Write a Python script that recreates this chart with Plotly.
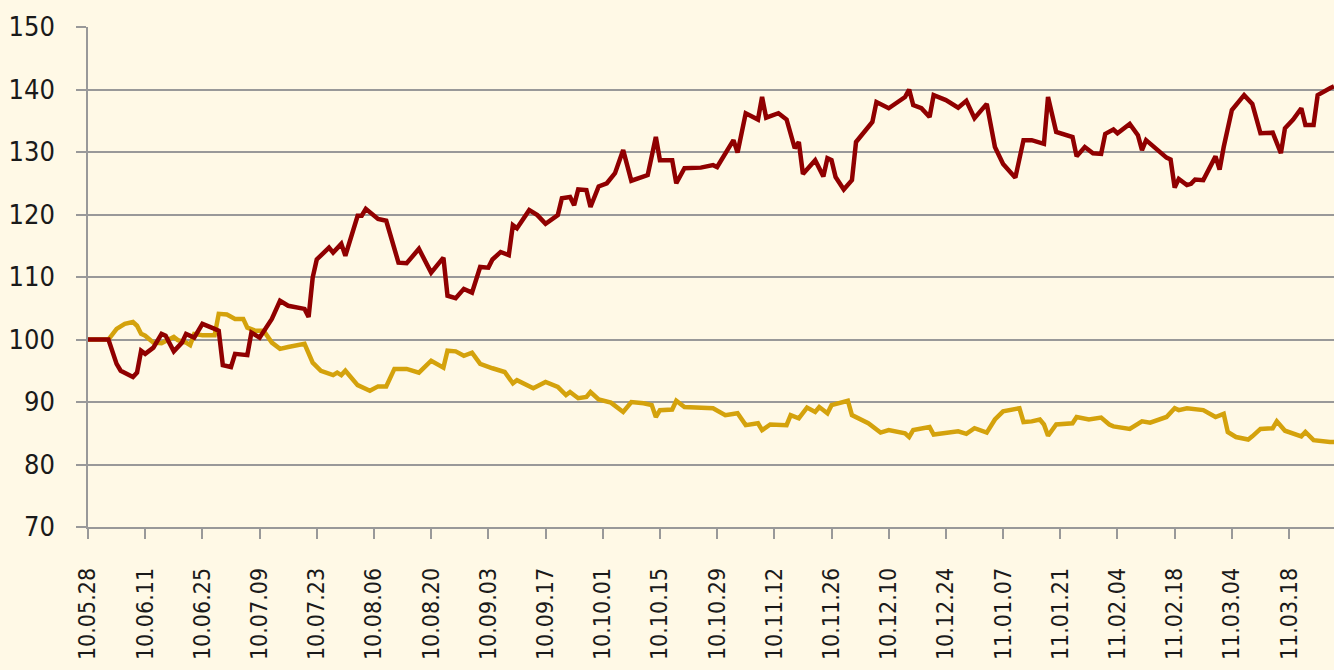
import plotly.graph_objects as go

# red series (index, 2010-05-28 = 100)
red_dates = [
    "2010-05-28", "2010-06-02", "2010-06-04", "2010-06-05", "2010-06-08", "2010-06-09", "2010-06-10",
    "2010-06-11", "2010-06-13", "2010-06-15", "2010-06-16", "2010-06-18", "2010-06-20", "2010-06-21",
    "2010-06-23", "2010-06-25", "2010-06-28", "2010-06-29", "2010-06-30", "2010-07-02", "2010-07-03",
    "2010-07-06", "2010-07-07", "2010-07-08", "2010-07-09", "2010-07-12", "2010-07-14", "2010-07-16",
    "2010-07-20", "2010-07-21", "2010-07-22", "2010-07-23", "2010-07-26", "2010-07-27", "2010-07-29",
    "2010-07-30", "2010-08-02", "2010-08-03", "2010-08-04", "2010-08-07", "2010-08-09", "2010-08-12",
    "2010-08-14", "2010-08-17", "2010-08-20", "2010-08-23", "2010-08-24", "2010-08-26", "2010-08-28",
    "2010-08-30", "2010-09-01", "2010-09-03", "2010-09-04", "2010-09-06", "2010-09-08", "2010-09-09",
    "2010-09-10", "2010-09-13", "2010-09-15", "2010-09-17", "2010-09-20", "2010-09-21", "2010-09-23",
    "2010-09-24", "2010-09-25", "2010-09-27", "2010-09-28", "2010-09-30", "2010-10-02", "2010-10-04",
    "2010-10-06", "2010-10-08", "2010-10-12", "2010-10-14", "2010-10-15", "2010-10-18", "2010-10-19",
    "2010-10-21", "2010-10-25", "2010-10-28", "2010-10-29", "2010-11-02", "2010-11-03", "2010-11-05",
    "2010-11-08", "2010-11-09", "2010-11-10", "2010-11-13", "2010-11-15", "2010-11-17", "2010-11-18",
    "2010-11-19", "2010-11-22", "2010-11-24", "2010-11-25", "2010-11-26", "2010-11-27", "2010-11-29",
    "2010-12-01", "2010-12-02", "2010-12-04", "2010-12-06", "2010-12-07", "2010-12-10", "2010-12-14",
    "2010-12-15", "2010-12-16", "2010-12-18", "2010-12-20", "2010-12-21", "2010-12-24", "2010-12-27",
    "2010-12-29", "2010-12-31", "2011-01-03", "2011-01-05", "2011-01-07", "2011-01-10", "2011-01-12",
    "2011-01-14", "2011-01-17", "2011-01-18", "2011-01-20", "2011-01-24", "2011-01-25", "2011-01-27",
    "2011-01-29", "2011-01-31", "2011-02-01", "2011-02-03", "2011-02-04", "2011-02-07", "2011-02-09",
    "2011-02-10", "2011-02-11", "2011-02-14", "2011-02-16", "2011-02-17", "2011-02-18", "2011-02-19",
    "2011-02-21", "2011-02-22", "2011-02-23", "2011-02-25", "2011-02-28", "2011-03-01", "2011-03-02",
    "2011-03-04", "2011-03-05", "2011-03-07", "2011-03-09", "2011-03-11", "2011-03-14", "2011-03-15",
    "2011-03-16", "2011-03-17", "2011-03-19", "2011-03-21", "2011-03-22", "2011-03-24", "2011-03-25",
    "2011-03-28", "2011-03-29",
]
red_values = [
    100.0, 100.0, 96.1, 95.0, 94.0, 94.7, 98.2,
    97.7, 98.7, 100.9, 100.6, 98.1, 99.5, 100.9,
    100.3, 102.5, 101.7, 101.4, 95.9, 95.6, 97.7,
    97.5, 101.1, 100.6, 100.3, 103.3, 106.2, 105.4,
    104.9, 103.6, 109.9, 112.8, 114.7, 113.9, 115.3,
    113.4, 119.8, 119.8, 120.9, 119.3, 119.0, 112.3,
    112.2, 114.5, 110.7, 113.1, 107.0, 106.6, 108.1,
    107.5, 111.6, 111.5, 112.8, 114.0, 113.5, 118.3,
    117.8, 120.7, 119.9, 118.5, 119.9, 122.6, 122.8,
    121.5, 124.0, 123.9, 121.2, 124.5, 125.0, 126.6,
    130.3, 125.4, 126.3, 132.4, 128.7, 128.7, 125.0,
    127.4, 127.5, 127.9, 127.6, 131.9, 129.9, 136.2,
    135.2, 138.8, 135.5, 136.2, 135.2, 130.6, 131.6,
    126.5, 128.7, 126.1, 129.0, 128.7, 126.0, 124.0,
    125.5, 131.6, 133.2, 134.8, 138.0, 137.0, 138.8,
    140.0, 137.5, 137.0, 135.6, 139.1, 138.3, 137.1,
    138.2, 135.4, 137.7, 130.8, 128.1, 125.9, 131.9,
    131.9, 131.3, 138.8, 133.2, 132.4, 129.3, 130.8,
    129.8, 129.7, 132.9, 133.6, 133.0, 134.5, 132.7,
    130.3, 131.9, 130.3, 129.1, 128.8, 124.3, 125.7,
    124.7, 124.9, 125.6, 125.5, 129.3, 127.2, 130.8,
    136.7, 137.6, 139.1, 137.7, 133.0, 133.1, 131.6,
    129.8, 133.8, 135.2, 137.0, 134.3, 134.3, 139.1,
    140.2, 140.5,
]

# gold series
gold_dates = [
    "2010-05-28", "2010-06-02", "2010-06-04", "2010-06-06", "2010-06-08", "2010-06-09", "2010-06-10",
    "2010-06-11", "2010-06-13", "2010-06-15", "2010-06-18", "2010-06-19", "2010-06-21", "2010-06-22",
    "2010-06-23", "2010-06-25", "2010-06-28", "2010-06-29", "2010-07-01", "2010-07-03", "2010-07-05",
    "2010-07-06", "2010-07-08", "2010-07-10", "2010-07-12", "2010-07-14", "2010-07-16", "2010-07-20",
    "2010-07-22", "2010-07-24", "2010-07-27", "2010-07-28", "2010-07-29", "2010-07-30", "2010-08-02",
    "2010-08-05", "2010-08-07", "2010-08-09", "2010-08-11", "2010-08-14", "2010-08-17", "2010-08-20",
    "2010-08-23", "2010-08-24", "2010-08-26", "2010-08-28", "2010-08-30", "2010-09-01", "2010-09-04",
    "2010-09-07", "2010-09-09", "2010-09-10", "2010-09-14", "2010-09-17", "2010-09-20", "2010-09-22",
    "2010-09-23", "2010-09-25", "2010-09-27", "2010-09-28", "2010-09-30", "2010-10-03", "2010-10-06",
    "2010-10-08", "2010-10-11", "2010-10-13", "2010-10-14", "2010-10-15", "2010-10-18", "2010-10-19",
    "2010-10-21", "2010-10-28", "2010-10-31", "2010-11-03", "2010-11-05", "2010-11-08", "2010-11-09",
    "2010-11-11", "2010-11-15", "2010-11-16", "2010-11-18", "2010-11-20", "2010-11-22", "2010-11-23",
    "2010-11-25", "2010-11-26", "2010-11-30", "2010-12-01", "2010-12-05", "2010-12-08", "2010-12-10",
    "2010-12-14", "2010-12-15", "2010-12-16", "2010-12-20", "2010-12-21", "2010-12-27", "2010-12-29",
    "2010-12-31", "2011-01-03", "2011-01-05", "2011-01-07", "2011-01-11", "2011-01-12", "2011-01-14",
    "2011-01-16", "2011-01-17", "2011-01-18", "2011-01-20", "2011-01-24", "2011-01-25", "2011-01-28",
    "2011-01-31", "2011-02-02", "2011-02-03", "2011-02-07", "2011-02-10", "2011-02-12", "2011-02-16",
    "2011-02-18", "2011-02-19", "2011-02-21", "2011-02-25", "2011-02-28", "2011-03-02", "2011-03-03",
    "2011-03-05", "2011-03-08", "2011-03-09", "2011-03-11", "2011-03-14", "2011-03-15", "2011-03-17",
    "2011-03-21", "2011-03-22", "2011-03-24", "2011-03-28", "2011-03-29",
]
gold_values = [
    100.0, 100.0, 101.7, 102.5, 102.8, 102.2, 100.9,
    100.6, 99.5, 99.4, 100.4, 99.9, 99.5, 99.1,
    100.9, 100.7, 100.7, 104.1, 104.0, 103.3, 103.3,
    101.9, 101.4, 101.4, 99.5, 98.5, 98.8, 99.3,
    96.3, 95.0, 94.3, 94.7, 94.3, 95.0, 92.7,
    91.8, 92.5, 92.5, 95.3, 95.3, 94.7, 96.6,
    95.5, 98.2, 98.1, 97.4, 97.9, 96.1, 95.4,
    94.8, 93.0, 93.5, 92.2, 93.2, 92.4, 91.1,
    91.6, 90.6, 90.8, 91.6, 90.4, 89.9, 88.4,
    90.0, 89.8, 89.5, 87.6, 88.7, 88.8, 90.2,
    89.2, 89.0, 87.9, 88.2, 86.3, 86.6, 85.5,
    86.4, 86.3, 87.9, 87.4, 89.1, 88.4, 89.2,
    88.2, 89.5, 90.2, 87.9, 86.6, 85.1, 85.5,
    85.0, 84.4, 85.5, 86.0, 84.8, 85.3, 84.9,
    85.8, 85.1, 87.2, 88.5, 89.0, 86.8, 86.9,
    87.2, 86.4, 84.6, 86.4, 86.6, 87.6, 87.2,
    87.5, 86.4, 86.1, 85.7, 86.9, 86.7, 87.6,
    89.0, 88.7, 89.0, 88.7, 87.6, 88.1, 85.2,
    84.4, 84.0, 84.5, 85.7, 85.8, 86.9, 85.4,
    84.5, 85.2, 83.9, 83.6, 83.6,
]

y_ticks = [70, 80, 90, 100, 110, 120, 130, 140, 150]

bg = "#FFF9E6"
grid = "#999999"
fam = "DejaVu Sans Condensed, DejaVu Sans"

fig = go.Figure()
fig.add_trace(go.Scatter(x=gold_dates, y=gold_values, mode="lines",
                         line=dict(color="#D4A20C", width=4.5), showlegend=False))
fig.add_trace(go.Scatter(x=red_dates, y=red_values, mode="lines",
                         line=dict(color="#900000", width=4.5), showlegend=False))

fig.update_layout(
    template="none",
    width=1334, height=670,
    margin=dict(l=88, r=0, t=27, b=143),
    paper_bgcolor=bg, plot_bgcolor=bg,
    font=dict(family=fam, size=27, color="#1a1a1a"),
)
fig.update_xaxes(
    type="date", range=["2010-05-28", "2011-03-29"],
    tick0="2010-05-28", dtick=14 * 86400000, tickformat="%y.%m.%d",
    tickangle=-90, tickfont=dict(family=fam, size=23, color="#1a1a1a"),
    ticks="outside", ticklen=10, tickcolor=grid, tickwidth=1.5,
    ticklabelstandoff=20,
    showgrid=False, showline=True, linecolor=grid, linewidth=1.5,
    zeroline=False, automargin=False,
)
fig.update_yaxes(
    range=[70, 150], tickvals=y_ticks,
    ticks="outside", ticklen=10, tickcolor=grid, tickwidth=1.5,
    ticklabelstandoff=16,
    showgrid=True, gridcolor=grid, gridwidth=1.5,
    showline=True, linecolor=grid, linewidth=1.5,
    zeroline=False, automargin=False,
)

fig.write_html("out.html", config={"displayModeBar": False},
               post_script="document.body.style.margin='0px';")
